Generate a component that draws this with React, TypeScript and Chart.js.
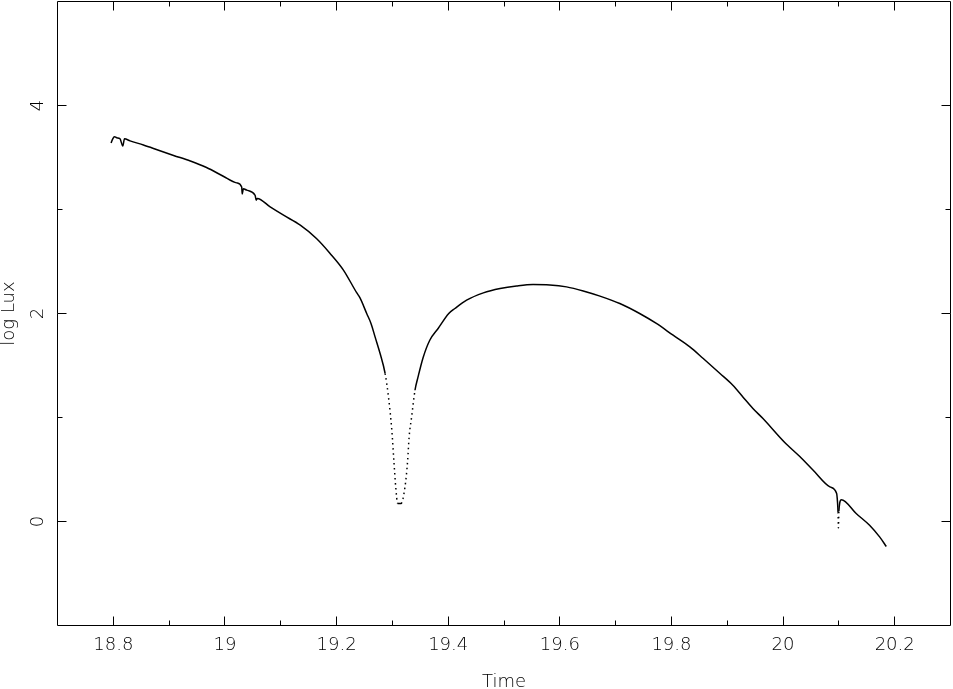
import React, { useEffect, useRef } from "react";
import { Chart, registerables } from "chart.js";

Chart.register(...registerables);

// Time (hours) and log Lux readings
const timeValues = [
  18.796, 18.799, 18.802, 18.806, 18.812, 18.817, 18.820, 18.830, 18.854, 18.881,
  18.908, 18.938, 18.967, 18.997, 19.021, 19.030, 19.031, 19.033, 19.039, 19.054,
  19.056, 19.058, 19.081, 19.105, 19.135, 19.164, 19.188, 19.212, 19.236, 19.242,
  19.254, 19.262, 19.269, 19.278, 19.287, 19.293, 19.299, 19.303, 19.306, 19.3095,
  19.3155, 19.3226, 19.3274, 19.330, 19.3345, 19.3405, 19.346, 19.355, 19.367, 19.382,
  19.401, 19.412, 19.433, 19.463, 19.493, 19.5225, 19.552, 19.582, 19.612, 19.642,
  19.672, 19.7075, 19.743, 19.773, 19.803, 19.833, 19.857, 19.887,
  19.910, 19.928, 19.946, 19.964, 20.003, 20.030, 20.054, 20.084, 20.096, 20.0975,
  20.0985, 20.0992, 20.100, 20.1045, 20.131, 20.155, 20.173, 20.185,
];
const logLuxValues = [
  3.64, 3.68, 3.70, 3.69, 3.68, 3.61, 3.68, 3.66, 3.62, 3.57,
  3.52, 3.467, 3.404, 3.32, 3.256, 3.217, 3.15, 3.20, 3.186, 3.137,
  3.09, 3.106, 3.025, 2.945, 2.849, 2.721, 2.58, 2.42, 2.20, 2.15,
  2.0, 1.90, 1.775, 1.615, 1.423, 1.198, 0.878, 0.558, 0.333, 0.173,
  0.173, 0.333, 0.589, 0.813, 1.006, 1.262, 1.39, 1.575, 1.743, 1.856,
  2.0, 2.048, 2.128, 2.198, 2.24, 2.265, 2.279, 2.275, 2.256, 2.217,
  2.167, 2.096, 2.0, 1.904, 1.791, 1.679, 1.567, 1.423,
  1.31, 1.198, 1.087, 0.99, 0.76, 0.625, 0.493, 0.333, 0.269, 0.19,
  0.09, -0.06, 0.10, 0.21, 0.077, -0.036, -0.148, -0.24,
];

const xMajorTicks = [18.8, 19, 19.2, 19.4, 19.6, 19.8, 20, 20.2];
const xTickLabels = ["18.8", "19", "19.2", "19.4", "19.6", "19.8", "20", "20.2"];
const xMinorTicks = [18.9, 19.1, 19.3, 19.5, 19.7, 19.9, 20.1];
const yMajorTicks = [0, 2, 4];
const yTickLabels = ["0", "2", "4"];
const yMinorTicks = [1, 3];

const xTitle = "Time";
const yTitle = "log Lux";

const FONT = '200 18px "DejaVu Sans", "Liberation Sans", sans-serif';

const framePlugin = {
  id: "frame",
  afterDraw(chart: any) {
    const { ctx, chartArea: a } = chart;
    const x = chart.scales.x;
    const y = chart.scales.y;
    ctx.save();
    ctx.strokeStyle = "#000";
    ctx.lineWidth = 1;
    ctx.beginPath();
    ctx.rect(a.left, a.top, a.right - a.left, a.bottom - a.top);
    ctx.stroke();

    const snap = (p: number) => Math.floor(p) + 0.5;
    const major = 9;
    const minor = 5;
    ctx.beginPath();
    const xt = (v: number, len: number) => {
      const px = snap(x.getPixelForValue(v));
      ctx.moveTo(px, a.bottom);
      ctx.lineTo(px, a.bottom - len);
      ctx.moveTo(px, a.top);
      ctx.lineTo(px, a.top + len);
    };
    const yt = (v: number, len: number) => {
      const py = snap(y.getPixelForValue(v));
      ctx.moveTo(a.left, py);
      ctx.lineTo(a.left + len, py);
      ctx.moveTo(a.right, py);
      ctx.lineTo(a.right - len, py);
    };
    xMajorTicks.forEach((v) => xt(v, major));
    xMinorTicks.forEach((v) => xt(v, minor));
    yMajorTicks.forEach((v) => yt(v, major));
    yMinorTicks.forEach((v) => yt(v, minor));
    ctx.stroke();

    ctx.fillStyle = "#000";
    ctx.font = FONT;
    ctx.textAlign = "center";
    ctx.textBaseline = "alphabetic";
    xMajorTicks.forEach((v, i) => {
      ctx.fillText(xTickLabels[i], x.getPixelForValue(v), a.bottom + 24.5);
    });
    ctx.fillText(xTitle, (a.left + a.right) / 2, 687);

    yMajorTicks.forEach((v, i) => {
      ctx.save();
      ctx.translate(43, y.getPixelForValue(v));
      ctx.rotate(-Math.PI / 2);
      ctx.fillText(yTickLabels[i], 0, 0);
      ctx.restore();
    });
    ctx.save();
    ctx.translate(14, (a.top + a.bottom) / 2);
    ctx.rotate(-Math.PI / 2);
    ctx.fillText(yTitle, 0, 0);
    ctx.restore();
    ctx.restore();
  },
};

export default function App() {
  const ref = useRef<HTMLCanvasElement | null>(null);
  useEffect(() => {
    if (!ref.current) return;
    const points = timeValues.map((t, i) => ({ x: t, y: logLuxValues[i] }));
    const chart = new Chart(ref.current, {
      type: "scatter",
      data: {
        datasets: [
          {
            data: points,
            showLine: true,
            borderColor: "#000",
            backgroundColor: "#000",
            borderWidth: 1.5,
            pointRadius: 0,
            cubicInterpolationMode: "monotone",
            segment: {
              borderDash: (c: any) => {
                const dx = Math.abs(c.p1.x - c.p0.x);
                const dy = Math.abs(c.p1.y - c.p0.y);
                return dy > 4 * dx && dy > 15 ? [1.5, 3.5] : undefined;
              },
            },
          },
        ],
      },
      options: {
        animation: false,
        responsive: false,
        devicePixelRatio: 1,
        events: [],
        layout: { padding: { left: 57.5, right: 2.5, top: 1.5, bottom: 63.5 } },
        plugins: { legend: { display: false }, tooltip: { enabled: false } },
        scales: {
          x: { type: "linear", min: 18.7, max: 20.3, display: false },
          y: { type: "linear", min: -1, max: 5, display: false },
        },
      },
      plugins: [framePlugin],
    });
    return () => chart.destroy();
  }, []);
  return (
    <div style={{ position: "fixed", left: 0, top: 0, width: 953, height: 689, background: "#fff" }}>
      <canvas ref={ref} width={953} height={689} style={{ display: "block" }} />
    </div>
  );
}
